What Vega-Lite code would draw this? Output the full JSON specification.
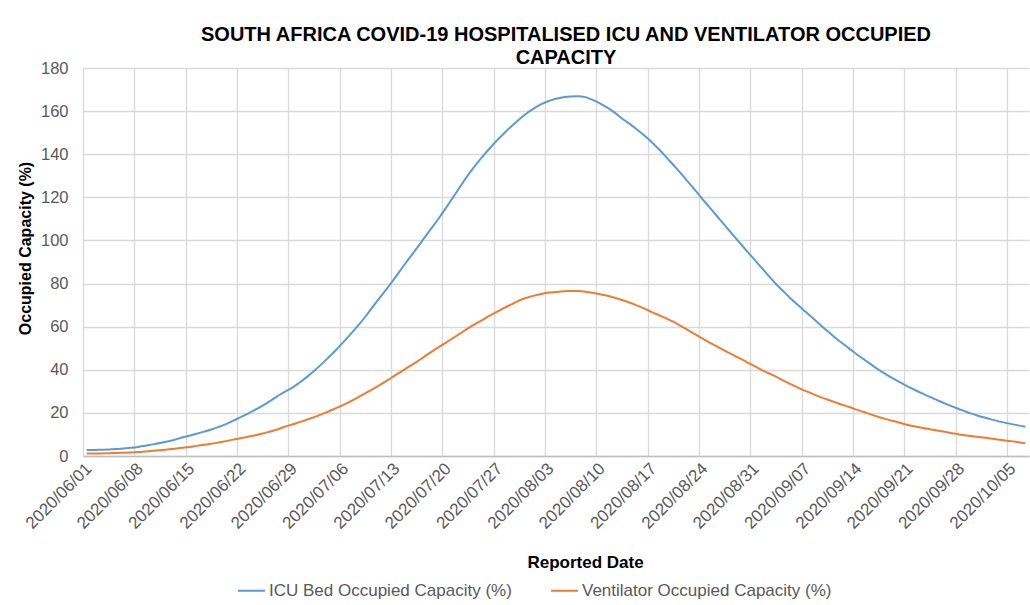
{
"$schema": "https://vega.github.io/schema/vega-lite/v6.json",
"width": 946, "height": 388,
"autosize": "none",
"padding": {"left": 83, "top": 68, "right": 1, "bottom": 149},
"background": "white",
"config": {"font": "Liberation Sans", "view": {"stroke": null}},
"title": {"text": ["SOUTH AFRICA COVID-19 HOSPITALISED ICU AND VENTILATOR OCCUPIED", "CAPACITY"], "font": "Liberation Sans", "fontSize": 20, "fontWeight": "bold", "color": "#000000", "anchor": "middle", "dx": 10, "lineHeight": 23, "offset": -8},
"data": {"values": [
{"d":"2020-06-01","icu":2.8,"vent":1.2},{"d":"2020-06-02","icu":2.8,"vent":1.2},{"d":"2020-06-03","icu":2.9,"vent":1.2},{"d":"2020-06-04","icu":3.0,"vent":1.3},{"d":"2020-06-05","icu":3.2,"vent":1.4},{"d":"2020-06-06","icu":3.5,"vent":1.5},{"d":"2020-06-07","icu":3.8,"vent":1.6},{"d":"2020-06-08","icu":4.2,"vent":1.8},{"d":"2020-06-09","icu":4.8,"vent":2.1},{"d":"2020-06-10","icu":5.4,"vent":2.4},
{"d":"2020-06-11","icu":6.0,"vent":2.7},{"d":"2020-06-12","icu":6.7,"vent":3.0},{"d":"2020-06-13","icu":7.5,"vent":3.4},{"d":"2020-06-14","icu":8.6,"vent":3.8},{"d":"2020-06-15","icu":9.4,"vent":4.2},{"d":"2020-06-16","icu":10.3,"vent":4.7},{"d":"2020-06-17","icu":11.3,"vent":5.2},{"d":"2020-06-18","icu":12.3,"vent":5.7},{"d":"2020-06-19","icu":13.5,"vent":6.3},{"d":"2020-06-20","icu":14.8,"vent":6.9},
{"d":"2020-06-21","icu":16.4,"vent":7.6},{"d":"2020-06-22","icu":18.0,"vent":8.2},{"d":"2020-06-23","icu":19.7,"vent":8.9},{"d":"2020-06-24","icu":21.5,"vent":9.6},{"d":"2020-06-25","icu":23.4,"vent":10.4},{"d":"2020-06-26","icu":25.5,"vent":11.4},{"d":"2020-06-27","icu":27.7,"vent":12.3},{"d":"2020-06-28","icu":29.8,"vent":13.6},{"d":"2020-06-29","icu":31.6,"vent":14.6},{"d":"2020-06-30","icu":34.0,"vent":15.7},
{"d":"2020-07-01","icu":36.6,"vent":16.8},{"d":"2020-07-02","icu":39.4,"vent":18.0},{"d":"2020-07-03","icu":42.5,"vent":19.3},{"d":"2020-07-04","icu":45.8,"vent":20.7},{"d":"2020-07-05","icu":49.2,"vent":22.2},{"d":"2020-07-06","icu":52.8,"vent":23.7},{"d":"2020-07-07","icu":56.6,"vent":25.4},{"d":"2020-07-08","icu":60.5,"vent":27.2},{"d":"2020-07-09","icu":64.6,"vent":29.1},{"d":"2020-07-10","icu":69.2,"vent":31.0},
{"d":"2020-07-11","icu":73.6,"vent":33.0},{"d":"2020-07-12","icu":77.9,"vent":35.1},{"d":"2020-07-13","icu":82.5,"vent":37.3},{"d":"2020-07-14","icu":87.2,"vent":39.4},{"d":"2020-07-15","icu":91.8,"vent":41.6},{"d":"2020-07-16","icu":96.3,"vent":43.7},{"d":"2020-07-17","icu":101.0,"vent":46.0},{"d":"2020-07-18","icu":105.6,"vent":48.3},{"d":"2020-07-19","icu":110.2,"vent":50.5},{"d":"2020-07-20","icu":115.1,"vent":52.6},
{"d":"2020-07-21","icu":120.2,"vent":54.8},{"d":"2020-07-22","icu":125.3,"vent":57.0},{"d":"2020-07-23","icu":130.3,"vent":59.2},{"d":"2020-07-24","icu":134.8,"vent":61.3},{"d":"2020-07-25","icu":139.0,"vent":63.2},{"d":"2020-07-26","icu":142.9,"vent":65.2},{"d":"2020-07-27","icu":146.6,"vent":67.0},{"d":"2020-07-28","icu":150.0,"vent":68.8},{"d":"2020-07-29","icu":153.2,"vent":70.5},{"d":"2020-07-30","icu":156.2,"vent":72.2},
{"d":"2020-07-31","icu":159.0,"vent":73.4},{"d":"2020-08-01","icu":161.3,"vent":74.4},{"d":"2020-08-02","icu":163.2,"vent":75.2},{"d":"2020-08-03","icu":164.7,"vent":75.8},{"d":"2020-08-04","icu":165.7,"vent":76.1},{"d":"2020-08-05","icu":166.4,"vent":76.4},{"d":"2020-08-06","icu":166.8,"vent":76.5},{"d":"2020-08-07","icu":166.9,"vent":76.5},{"d":"2020-08-08","icu":166.5,"vent":76.2},{"d":"2020-08-09","icu":165.2,"vent":75.7},
{"d":"2020-08-10","icu":163.6,"vent":75.0},{"d":"2020-08-11","icu":161.6,"vent":74.3},{"d":"2020-08-12","icu":159.3,"vent":73.4},{"d":"2020-08-13","icu":156.6,"vent":72.4},{"d":"2020-08-14","icu":154.2,"vent":71.2},{"d":"2020-08-15","icu":151.6,"vent":69.9},{"d":"2020-08-16","icu":148.8,"vent":68.5},{"d":"2020-08-17","icu":145.8,"vent":66.9},{"d":"2020-08-18","icu":142.4,"vent":65.4},{"d":"2020-08-19","icu":138.8,"vent":63.9},
{"d":"2020-08-20","icu":135.0,"vent":62.3},{"d":"2020-08-21","icu":131.2,"vent":60.4},{"d":"2020-08-22","icu":127.2,"vent":58.4},{"d":"2020-08-23","icu":123.2,"vent":56.4},{"d":"2020-08-24","icu":119.1,"vent":54.4},{"d":"2020-08-25","icu":115.1,"vent":52.5},{"d":"2020-08-26","icu":111.1,"vent":50.7},{"d":"2020-08-27","icu":107.1,"vent":48.9},{"d":"2020-08-28","icu":103.1,"vent":47.1},{"d":"2020-08-29","icu":99.1,"vent":45.4},
{"d":"2020-08-30","icu":95.2,"vent":43.6},{"d":"2020-08-31","icu":91.3,"vent":41.8},{"d":"2020-09-01","icu":87.5,"vent":40.0},{"d":"2020-09-02","icu":83.6,"vent":38.4},{"d":"2020-09-03","icu":79.8,"vent":36.8},{"d":"2020-09-04","icu":76.4,"vent":35.0},{"d":"2020-09-05","icu":73.1,"vent":33.3},{"d":"2020-09-06","icu":70.0,"vent":31.7},{"d":"2020-09-07","icu":67.0,"vent":30.2},{"d":"2020-09-08","icu":64.0,"vent":28.8},
{"d":"2020-09-09","icu":61.0,"vent":27.4},{"d":"2020-09-10","icu":58.0,"vent":26.2},{"d":"2020-09-11","icu":55.1,"vent":25.0},{"d":"2020-09-12","icu":52.4,"vent":23.8},{"d":"2020-09-13","icu":49.8,"vent":22.7},{"d":"2020-09-14","icu":47.2,"vent":21.5},{"d":"2020-09-15","icu":44.8,"vent":20.4},{"d":"2020-09-16","icu":42.4,"vent":19.2},{"d":"2020-09-17","icu":40.0,"vent":18.1},{"d":"2020-09-18","icu":37.9,"vent":17.1},
{"d":"2020-09-19","icu":35.9,"vent":16.2},{"d":"2020-09-20","icu":34.0,"vent":15.3},{"d":"2020-09-21","icu":32.2,"vent":14.4},{"d":"2020-09-22","icu":30.5,"vent":13.7},{"d":"2020-09-23","icu":28.9,"vent":13.0},{"d":"2020-09-24","icu":27.4,"vent":12.4},{"d":"2020-09-25","icu":25.9,"vent":11.8},{"d":"2020-09-26","icu":24.4,"vent":11.2},{"d":"2020-09-27","icu":23.0,"vent":10.6},{"d":"2020-09-28","icu":21.7,"vent":10.0},
{"d":"2020-09-29","icu":20.4,"vent":9.5},{"d":"2020-09-30","icu":19.3,"vent":9.1},{"d":"2020-10-01","icu":18.2,"vent":8.7},{"d":"2020-10-02","icu":17.3,"vent":8.2},{"d":"2020-10-03","icu":16.4,"vent":7.8},{"d":"2020-10-04","icu":15.6,"vent":7.3},{"d":"2020-10-05","icu":14.9,"vent":6.9},{"d":"2020-10-06","icu":14.2,"vent":6.4},{"d":"2020-10-07","icu":13.6,"vent":5.9}
]},
"transform": [{"fold": ["icu", "vent"], "as": ["s", "v"]}],
"mark": {"type": "line", "strokeWidth": 2, "interpolate": "monotone"},
"encoding": {
  "x": {"field": "d", "type": "temporal", "timeUnit": "utcyearmonthdate", "bandPosition": 0.5,
    "scale": {"type": "utc", "domain": [{"year": 2020, "month": 6, "date": 1, "utc": true}, {"year": 2020, "month": 10, "date": 8, "utc": true}]},
    "axis": {
      "values": [
        {"year":2020,"month":6,"date":1,"utc":true},{"year":2020,"month":6,"date":8,"utc":true},{"year":2020,"month":6,"date":15,"utc":true},{"year":2020,"month":6,"date":22,"utc":true},{"year":2020,"month":6,"date":29,"utc":true},
        {"year":2020,"month":7,"date":6,"utc":true},{"year":2020,"month":7,"date":13,"utc":true},{"year":2020,"month":7,"date":20,"utc":true},{"year":2020,"month":7,"date":27,"utc":true},
        {"year":2020,"month":8,"date":3,"utc":true},{"year":2020,"month":8,"date":10,"utc":true},{"year":2020,"month":8,"date":17,"utc":true},{"year":2020,"month":8,"date":24,"utc":true},{"year":2020,"month":8,"date":31,"utc":true},
        {"year":2020,"month":9,"date":7,"utc":true},{"year":2020,"month":9,"date":14,"utc":true},{"year":2020,"month":9,"date":21,"utc":true},{"year":2020,"month":9,"date":28,"utc":true},
        {"year":2020,"month":10,"date":5,"utc":true}
      ],
      "format": "%Y/%m/%d",
      "labelAngle": -45, "labelFontSize": 17, "labelColor": "#595959", "labelPadding": 4,
      "labelOverlap": false, "labelFlush": false, "labelBound": false,
      "ticks": false, "domainColor": "#bfbfbf", "domainWidth": 1.5,
      "grid": true, "gridColor": "#d9d9d9", "gridWidth": 1.3,
      "title": "Reported Date", "titleFontSize": 17, "titleFontWeight": "bold", "titleColor": "#000000",
      "titleX": 502, "titleY": 111, "titleBaseline": "alphabetic", "titleAlign": "center"
    }
  },
  "y": {"field": "v", "type": "quantitative",
    "scale": {"domain": [0, 180]},
    "axis": {
      "values": [0, 20, 40, 60, 80, 100, 120, 140, 160, 180],
      "labelFontSize": 16.5, "labelColor": "#595959", "labelPadding": 15,
      "ticks": false, "domain": false,
      "grid": true, "gridColor": "#d9d9d9", "gridWidth": 1.3,
      "title": "Occupied Capacity (%)", "titleFontSize": 16, "titleFontWeight": "bold", "titleColor": "#000000",
      "titleX": -58, "titleY": 180, "titleBaseline": "middle", "titleAlign": "center", "titleAngle": -90
    }
  },
  "color": {"field": "s", "type": "nominal",
    "scale": {"domain": ["icu", "vent"], "range": ["#5B9BD5", "#ED7D31"]},
    "legend": {
      "orient": "none", "legendX": 154, "legendY": 508, "direction": "horizontal", "title": null,
      "symbolType": "stroke", "symbolSize": 729, "symbolStrokeWidth": 2,
      "labelFontSize": 17, "labelColor": "#595959", "labelOffset": 3, "labelLimit": 400,
      "columnPadding": 35,
      "labelExpr": "datum.label == 'icu' ? 'ICU Bed Occupied Capacity (%)' : 'Ventilator Occupied Capacity (%)'"
    }
  }
}
}
